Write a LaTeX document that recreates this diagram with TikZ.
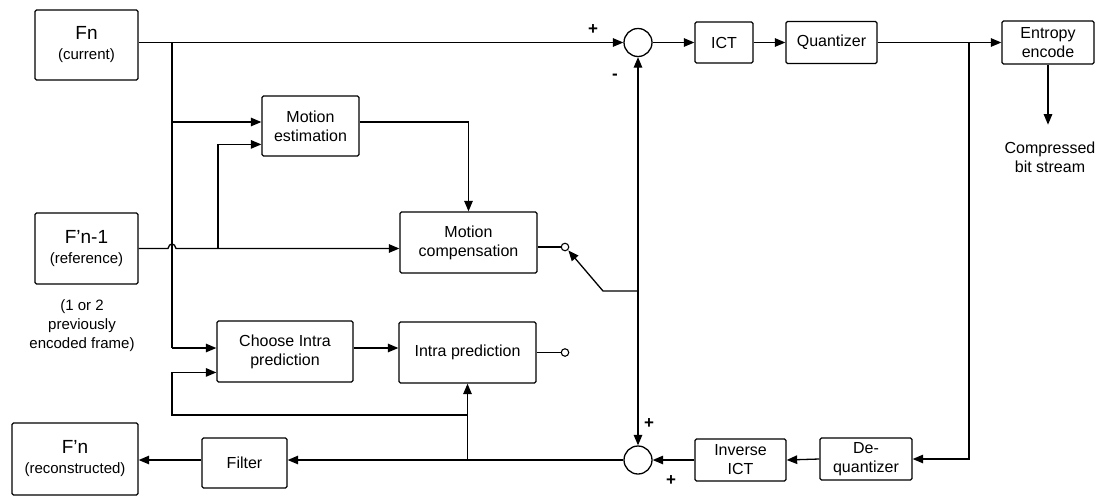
\documentclass[tikz,border=0pt]{standalone}
\usepackage{fontspec}
\setmainfont{Liberation Sans}
\usetikzlibrary{arrows.meta,calc}
\begin{document}
\begin{tikzpicture}[x=1pt,y=-1pt,
  box/.style={draw, line width=1.3pt, rounded corners=1.5pt, align=center, inner sep=0pt,
    font=\fontsize{16}{19}\selectfont},
  fbox/.style={box, font=\fontsize{15}{18}\selectfont},
  sumc/.style={draw, circle, line width=1.3pt, minimum size=28pt, inner sep=0pt},
  tap/.style={draw, circle, line width=1.1pt, minimum size=7.5pt, inner sep=0pt, fill=white},
  conn/.style={line width=1.3pt},
  arr/.style={conn, -{Triangle[length=10.5pt,width=8.5pt]}},
  lbl/.style={font=\fontsize{16}{19}\selectfont, inner sep=0pt, align=center},
  sgn/.style={font=\fontsize{17}{18}\selectfont\bfseries, inner sep=0pt},
]
\useasboundingbox (0,0) rectangle (1102,496);

% boxes
\node[fbox, minimum width=103pt, minimum height=70pt] (fn) at (86.5,45)
  {{\fontsize{19}{21}\selectfont Fn}\\[2pt](current)};
\node[fbox, minimum width=103pt, minimum height=71pt] (fp) at (86.5,248.5)
  {{\fontsize{19}{21}\selectfont F’n-1}\\[2pt](reference)};
\node[fbox, minimum width=126pt, minimum height=72pt] (frec) at (75,459)
  {{\fontsize{19}{21}\selectfont F’n}\\[2pt](reconstructed)};
\node[lbl, font=\fontsize{15}{19}\selectfont] (note) at (82,326) {(1 or 2\\previously\\encoded frame)};

\node[box, minimum width=97pt, minimum height=60pt] (me) at (310.5,126) {Motion\\estimation};
\node[box, minimum width=137pt, minimum height=61pt] (mc) at (468.5,242.5) {Motion\\compensation};
\node[box, minimum width=136pt, minimum height=61pt] (ci) at (285,351.5) {Choose Intra\\prediction};
\node[box, minimum width=137pt, minimum height=61pt] (ip) at (467.5,352.5) {Intra prediction};

\node[sumc] (s1) at (638,42.5) {};
\node[box, minimum width=58pt, minimum height=41pt] (ict) at (724,42.5) {ICT};
\node[box, minimum width=91pt, minimum height=42pt] (q) at (831.5,42.5) {Quantizer};
\node[box, minimum width=92pt, minimum height=43pt] (ee) at (1048,42.5) {Entropy\\encode};
\node[lbl] (cbs) at (1050,157) {Compressed\\bit stream};

\node[box, minimum width=92pt, minimum height=42pt] (dq) at (866,459) {De-\\quantizer};
\node[box, minimum width=91pt, minimum height=42pt] (iict) at (740.5,460) {Inverse\\ICT};
\node[sumc] (s2) at (638,460) {};
\node[box, minimum width=85pt, minimum height=50pt] (filt) at (244.5,463) {Filter};

\node[tap] (t1) at (565,247) {};
\node[tap] (t2) at (565,352.5) {};

% signs
\node[sgn] (p1) at (593,30) {+};
\node[sgn] (m1) at (615,77) {-};
\node[sgn] (p2) at (649,424) {+};
\node[sgn] (p3) at (671,481) {+};

% junction coordinates
\coordinate (j1) at (172,42.5);
\coordinate (j2) at (172,122);
\coordinate (cI) at (172,348);
\coordinate (j3) at (218,248.5);
\coordinate (sw0) at (638,291);
\coordinate (sw1) at (603,291);
\coordinate (j4) at (969,42.5);
\coordinate (j5) at (ip.south |- s2);
\coordinate (j6) at (ip.south |- 0,415);

% connectors
\draw[arr] (fn.east |- s1) -- (s1.west);
\draw[conn] (j1) -- (cI);
\draw[arr] (cI) -- (ci.west |- cI);
\draw[arr] (j2) -- (me.west |- j2);
\draw[arr] (fp.east) -- (168,248.5) .. controls (169,242.5) and (175,242.5) .. (176,248.5) -- (mc.west |- fp.east);
\draw[arr] (j3) |- ($(me.south west)!0.2!(me.north west)$);
\draw[arr] ($(me.south east)!0.567!(me.north east)$) -| (mc.north);
\draw[conn] (mc.east |- t1) -- (t1.west);
\draw[conn] (ip.east |- t2) -- (t2.west);
\draw[arr, shorten >=0.5pt] (sw0) -- (sw1) -- (t1.south east);
\draw[arr] (sw0) -- (s1.south);
\draw[arr] (sw0) -- (s2.north);
\draw[arr] (s1.east) -- (ict.west);
\draw[arr] (ict.east) -- (q.west);
\draw[arr] (q.east) -- (ee.west);
\draw[arr] (j4) |- (dq.east);
\draw[arr] (ee.south) -- ++(0,60);
\draw[arr] (dq.west) -- (iict.east);
\draw[arr] (iict.west) -- (s2.east);
\draw[arr] (s2.west) -- (filt.east |- s2);
\draw[arr] (filt.west |- s2) -- (frec.east |- s2);
\draw[arr] (j5) -- (ip.south);
\draw[arr] (j6) -- (j6 -| j1) |- ($(ci.south west)!0.164!(ci.north west)$);
\draw[arr] (ci.east |- cI) -- (ip.west |- cI);
\end{tikzpicture}
\end{document}
